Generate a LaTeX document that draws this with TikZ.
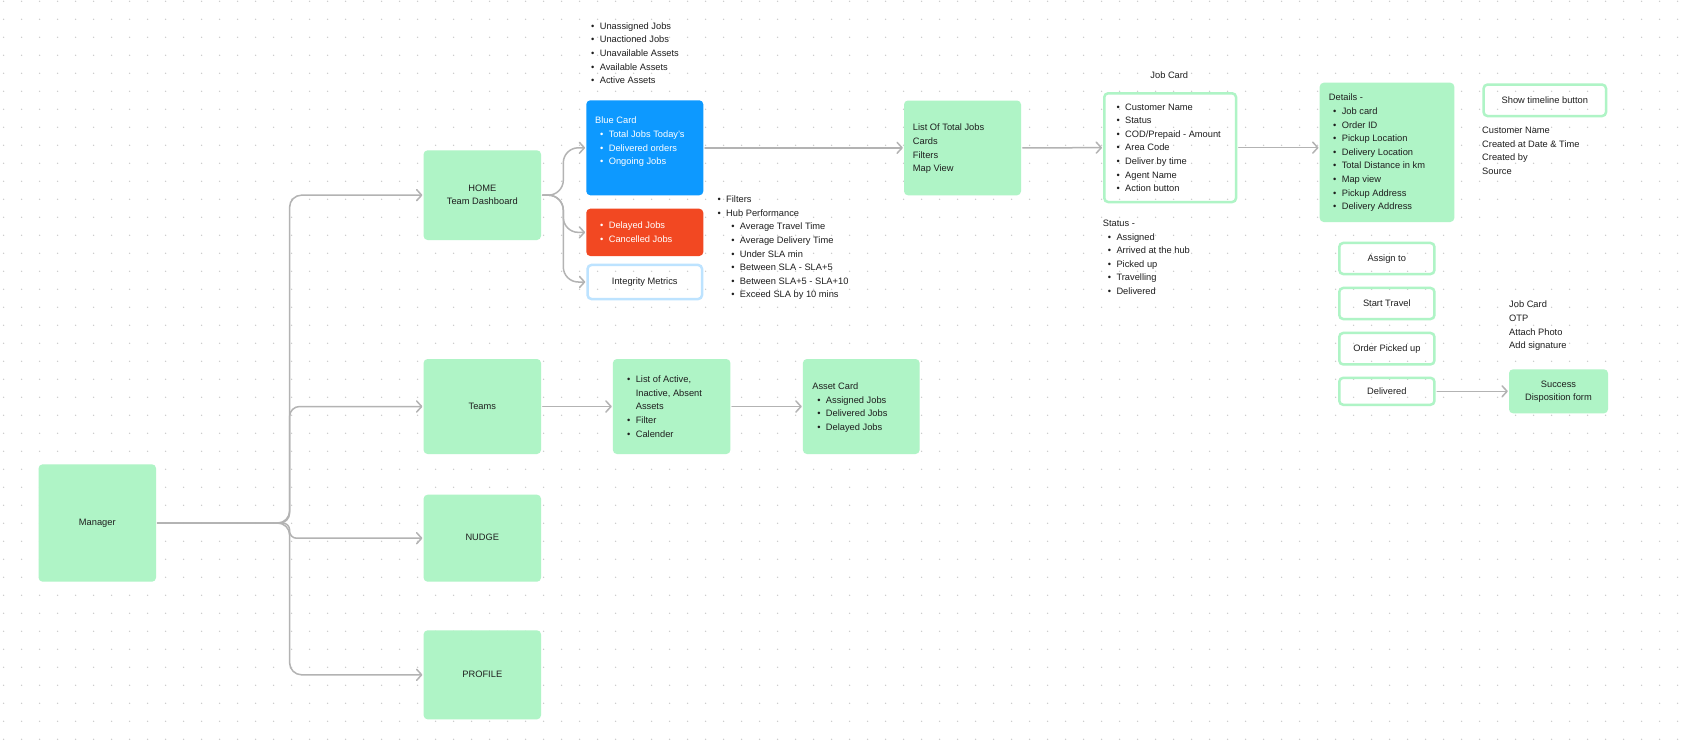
\documentclass[tikz,border=0pt]{standalone}
\usepackage{fontspec}
\setmainfont{Liberation Sans}
\usetikzlibrary{arrows.meta}
\definecolor{gfill}{HTML}{AFF4C6}
\definecolor{bfill}{HTML}{0D99FF}
\definecolor{rfill}{HTML}{F24822}
\definecolor{lblue}{HTML}{BDE3FF}
\definecolor{ink}{HTML}{1E1E1E}
\definecolor{lnc}{HTML}{B3B3B3}
\definecolor{dotc}{HTML}{C8C8C8}
\newcommand\bl{\makebox[8.6pt][l]{\textbullet}}
\newcommand\sbl{\hspace*{13.7pt}\bl}
\newcommand\ibl{\hspace*{5pt}\bl}
\tikzset{
  txt/.style={font=\fontsize{9.3}{13.6}\selectfont, text=ink, inner sep=0pt, align=left},
  ctxt/.style={txt, align=center},
  gbox/.style={ctxt, fill=gfill, draw=none, rounded corners=4pt},
  obox/.style={ctxt, draw=gfill, line width=2.5pt, rounded corners=4pt},
  bbox/.style={ctxt, draw=lblue, line width=2.5pt, rounded corners=4pt},
  conn/.style={draw=lnc, line width=1.5pt, line cap=round, line join=round,
    -{Straight Barb[length=5pt,width=11pt,line cap=round,line join=round]},
    shorten >=1pt, shorten <=1.5pt},
}
\begin{document}
\begin{tikzpicture}[x=1pt,y=-1pt]
\useasboundingbox (0,0) rectangle (1695,748);
\fill[white] (0,0) rectangle (1695,748);
\foreach \i in {0,...,93}{\foreach \j in {0,...,41}{\fill[dotc] ({3.6+18*\i},{1.3+18*\j}) circle[radius=0.75pt];}}

% main column
\node[gbox, minimum width=117.4pt, minimum height=117.4pt] (mgr) at (97.3,523) {\strut Manager};
\node[gbox, minimum width=117.4pt, minimum height=89.7pt] (home) at (482.3,195.15) {\strut HOME\\\strut Team Dashboard};
\node[gbox, minimum width=117.4pt, minimum height=95pt] (teams) at (482.3,406.5) {\strut Teams};
\node[gbox, minimum width=117.4pt, minimum height=87pt] (nudge) at (482.3,538.2) {\strut NUDGE};
\node[gbox, minimum width=117.4pt, minimum height=89pt] (profile) at (482.3,674.8) {\strut PROFILE};

% home children
\node[gbox, fill=bfill, minimum width=117pt, minimum height=95pt] (blue) at (644.8,147.8) {};
\node[gbox, fill=rfill, minimum width=117pt, minimum height=47.3pt] (red) at (644.8,232.35) {};
\node[bbox, minimum width=114.5pt, minimum height=34.1pt] (integ) at (644.8,282) {\strut Integrity Metrics};
\node[txt, anchor=west, text=white] (bluetxt) at (595,141.65) {\strut Blue Card\\\ibl\strut Total Jobs Today's\\\ibl\strut Delivered orders\\\ibl\strut Ongoing Jobs};
\node[txt, anchor=west, text=white] (redtxt) at (600,232.85) {\bl\strut Delayed Jobs\\\bl\strut Cancelled Jobs};
\node[txt, anchor=west] (toplist) at (591,53.7) {\bl\strut Unassigned Jobs\\\bl\strut Unactioned Jobs\\\bl\strut Unavailable Assets\\\bl\strut Available Assets\\\bl\strut Active Assets};
\node[txt, anchor=west] (filters) at (717.4,247.5) {\bl\strut Filters\\\bl\strut Hub Performance\\\sbl\strut Average Travel Time\\\sbl\strut Average Delivery Time\\\sbl\strut Under SLA min\\\sbl\strut Between SLA - SLA+5\\\sbl\strut Between SLA+5 - SLA+10\\\sbl\strut Exceed SLA by 10 mins};

% total jobs & job card
\node[gbox, minimum width=117pt, minimum height=94.8pt] (totl) at (962.5,147.9) {};
\node[txt, anchor=west] (totltxt) at (912.7,148.5) {\strut List Of Total Jobs\\\strut Cards\\\strut Filters\\\strut Map View};
\node[obox, minimum width=131.8pt, minimum height=108.8pt] (jobcard) at (1170.15,147.65) {};
\node[ctxt] (jctitle) at (1169.3,75.7) {\strut Job Card};
\node[txt, anchor=west] (jctxt) at (1116.4,148.2) {\bl\strut Customer Name\\\bl\strut Status\\\bl\strut COD/Prepaid - Amount\\\bl\strut Area Code\\\bl\strut Deliver by time\\\bl\strut Agent Name\\\bl\strut Action button};
\node[txt, anchor=west] (status) at (1102.7,257.7) {\strut Status -\\\ibl\strut Assigned\\\ibl\strut Arrived at the hub\\\ibl\strut Picked up\\\ibl\strut Travelling\\\ibl\strut Delivered};

% details
\node[gbox, minimum width=134.6pt, minimum height=139.3pt] (details) at (1387,152.35) {};
\node[txt, anchor=west] (dettxt) at (1328.7,152.65) {\strut Details -\\\hspace*{4.3pt}\bl\strut Job card\\\hspace*{4.3pt}\bl\strut Order ID\\\hspace*{4.3pt}\bl\strut Pickup Location\\\hspace*{4.3pt}\bl\strut Delivery Location\\\hspace*{4.3pt}\bl\strut Total Distance in km\\\hspace*{4.3pt}\bl\strut Map view\\\hspace*{4.3pt}\bl\strut Pickup Address\\\hspace*{4.3pt}\bl\strut Delivery Address};
\node[obox, minimum width=122.5pt, minimum height=31.5pt] (showtl) at (1544.8,100.3) {\strut Show timeline button};
\node[txt, anchor=west] (custinfo) at (1482,151.35) {\strut Customer Name\\\strut Created at Date \& Time\\\strut Created by\\\strut Source};
\node[obox, minimum width=95.2pt, minimum height=31.1pt] (assign) at (1386.85,258.5) {\strut Assign to};
\node[obox, minimum width=95.2pt, minimum height=31.1pt] (starttr) at (1386.85,303.5) {\strut Start Travel};
\node[obox, minimum width=95.2pt, minimum height=31.5pt] (picked) at (1386.85,348.7) {\strut Order Picked up};
\node[obox, minimum width=95.2pt, minimum height=27pt] (delivered) at (1386.85,391.3) {\strut Delivered};
\node[gbox, minimum width=99pt, minimum height=44pt] (success) at (1558.5,391.3) {\strut Success\\\strut Disposition form};
\node[txt, anchor=west] (otplist) at (1509,325.5) {\strut Job Card\\\strut OTP\\\strut Attach Photo\\\strut Add signature};

% teams row
\node[gbox, minimum width=117.5pt, minimum height=95pt] (tlist) at (671.65,406.5) {};
\node[txt, anchor=west] (tlisttxt) at (627,407.2) {\bl\strut List of Active,\\\hspace*{8.6pt}\strut Inactive, Absent\\\hspace*{8.6pt}\strut Assets\\\bl\strut Filter\\\bl\strut Calender};
\node[gbox, minimum width=116.7pt, minimum height=95pt] (asset) at (861.25,406.5) {};
\node[txt, anchor=west] (assettxt) at (812.1,407.2) {\strut Asset Card\\\ibl\strut Assigned Jobs\\\ibl\strut Delivered Jobs\\\ibl\strut Delayed Jobs};

% connectors
\draw[conn, rounded corners=12pt] (mgr.east) -- (289.6,523) |- (home.west);
\draw[conn, rounded corners=10pt] (mgr.east) -- (289.6,523) |- (teams.west);
\draw[conn, rounded corners=7pt] (mgr.east) -- (289.6,523) |- (nudge.west);
\draw[conn, rounded corners=12pt] (mgr.east) -- (289.6,523) |- (profile.west);
\draw[conn, rounded corners=15pt] (home.east) -- (563.3,195.15) |- (blue.west);
\draw[conn, rounded corners=15pt] (home.east) -- (563.3,195.15) |- (red.west);
\draw[conn, rounded corners=15pt] (home.east) -- (563.3,195.15) |- (integ.west);
\draw[conn] (blue.east) -- (blue.east -| totl.west);
\draw[conn] (totl.east) -- (jobcard.west);
\draw[conn] (jobcard.east) -- (jobcard.east -| details.west);
\draw[conn] (teams.east) -- (tlist.west);
\draw[conn] (tlist.east) -- (asset.west);
\draw[conn] (delivered.east) -- (success.west);
\end{tikzpicture}
\end{document}
